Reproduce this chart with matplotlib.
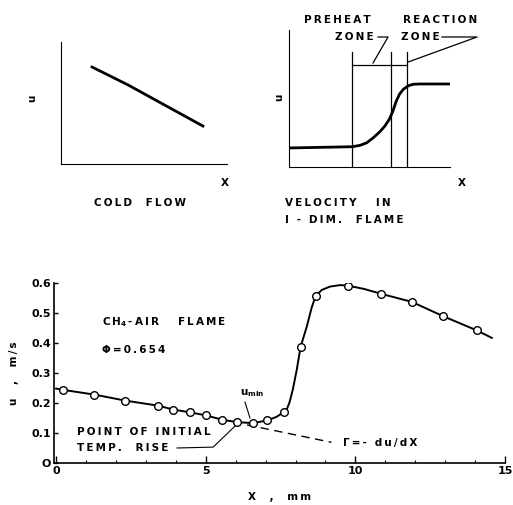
import matplotlib
matplotlib.use('Agg')
import matplotlib.pyplot as plt
from matplotlib.ticker import MultipleLocator

plt.rcParams['font.family'] = ['DejaVu Sans']
plt.rcParams['font.size'] = 7.5
plt.rcParams['font.weight'] = 'bold'
plt.rcParams['axes.labelweight'] = 'bold'
plt.rcParams['mathtext.default'] = 'bf'

# measured points, CH4-air flame, phi = 0.654
x_meas = [0.22, 1.28, 2.31, 3.42, 3.92, 4.47, 5.0, 5.56, 6.06, 6.58, 7.06, 7.61,
          8.17, 8.67, 9.76, 10.86, 11.89, 12.94, 14.06]
u_meas = [0.244, 0.228, 0.208, 0.191, 0.178, 0.169, 0.159, 0.144, 0.136, 0.133, 0.142, 0.170,
          0.387, 0.556, 0.591, 0.564, 0.537, 0.489, 0.442]

# hand-faired curve through the points
x_curve = [0.0, 0.22, 1.28, 2.31, 3.42, 3.92, 4.47, 5.0, 5.56, 6.06, 6.58, 7.06, 7.37, 7.61,
           7.72, 7.80, 7.91, 8.04, 8.17, 8.38, 8.54, 8.67, 8.88, 9.15, 9.49, 9.76, 10.3, 10.86,
           11.89, 12.94, 14.06, 14.56]
u_curve = [0.248, 0.244, 0.228, 0.208, 0.191, 0.178, 0.169, 0.159, 0.144, 0.136, 0.133, 0.142,
           0.154, 0.170, 0.182, 0.202, 0.245, 0.31, 0.387, 0.456, 0.518, 0.556, 0.577, 0.588,
           0.593, 0.591, 0.580, 0.564, 0.537, 0.489, 0.442, 0.417]

# extrapolated cold-flow gradient
x_grad = [6.38, 9.2]
u_grad = [0.127, 0.069]

# schematic panels (arbitrary units, 0..10)
cold_x = [1.87, 4.04, 8.55]
cold_u = [7.95, 6.48, 3.11]

flame_x = [0.0, 3.93, 4.41, 4.83, 5.24, 5.65, 5.96, 6.23, 6.44, 6.65, 6.86, 7.10, 7.41,
           7.72, 8.14, 10.0]
flame_u = [1.39, 1.48, 1.58, 1.77, 2.14, 2.58, 3.0, 3.48, 4.04, 4.77, 5.31, 5.67, 5.93,
           6.04, 6.06, 6.06]
zone_edges = [3.91, 6.34, 7.33]

TS = '\u2009'


def spaced(s):
    # lettering on the original is widely tracked
    return TS.join(s)


fig = plt.figure(figsize=(5.13, 5.05), dpi=100)

# ---- cold flow sketch
ax1 = fig.add_axes([61 / 513, 341 / 505, 166 / 513, 122 / 505])
ax1.plot(cold_x, cold_u, color='black', lw=2.0)
ax1.set_xlim(0, 10)
ax1.set_ylim(0, 10)
for s in ['top', 'right']:
    ax1.spines[s].set_visible(False)
ax1.set_xticks([])
ax1.set_yticks([])
ax1.text(-1.75, 5.41, 'u', rotation=90, ha='center', va='center')
ax1.text(9.88, -1.56, 'X', ha='center', va='center')
ax1.text(4.76, -3.2, spaced('COLD  FLOW'), ha='center', va='center')

# ---- 1-D flame sketch
ax2 = fig.add_axes([289 / 513, 338 / 505, 161 / 513, 137 / 505])
ax2.plot(flame_x, flame_u, color='black', lw=2.0)
for xe in zone_edges:
    ax2.plot([xe, xe], [0, 8.39], color='black', lw=0.9)
ax2.plot([zone_edges[0], zone_edges[2]], [7.45, 7.45], color='black', lw=0.9)
ax2.set_xlim(0, 10)
ax2.set_ylim(0, 10)
for s in ['top', 'right']:
    ax2.spines[s].set_visible(False)
ax2.set_xticks([])
ax2.set_yticks([])
ax2.text(-0.62, 5.11, 'u', rotation=90, ha='center', va='center')
ax2.text(10.75, -1.17, 'X', ha='center', va='center')
ax2.text(-0.25, -2.63, spaced('VELOCITY   IN'), ha='left', va='center')
ax2.text(-0.25, -3.87, spaced('I - DIM.  FLAME'), ha='left', va='center')
ax2.text(3.0, 10.73, spaced('PREHEAT'), ha='center', va='center')
ax2.text(4.04, 9.49, spaced('ZONE'), ha='center', va='center')
ax2.text(9.38, 10.73, spaced('REACTION'), ha='center', va='center')
ax2.text(8.14, 9.49, spaced('ZONE'), ha='center', va='center')
ax2.plot([5.53, 6.15, 5.22], [9.49, 9.49, 7.59], color='black', lw=0.9, clip_on=False)
ax2.plot([9.5, 11.68, 7.39], [9.49, 9.49, 7.66], color='black', lw=0.9, clip_on=False)

# ---- measured profile
ax = fig.add_axes([54 / 513, 42 / 505, 451 / 513, 180 / 505])
ax.plot(x_curve, u_curve, color='black', lw=1.4, zorder=2)
ax.plot(x_grad, u_grad, color='black', lw=1.0, dashes=(6, 4), zorder=1)
ax.plot(x_meas, u_meas, 'o', ms=5.5, mfc='white', mec='black', mew=1.0, zorder=3)
ax.set_xlim(-0.07, 15)
ax.set_ylim(0, 0.6)
for s in ['top', 'right']:
    ax.spines[s].set_visible(False)
ax.spines['left'].set_linewidth(1.2)
ax.spines['bottom'].set_linewidth(1.2)
ax.set_xticks([0, 5, 10, 15])
ax.set_xticklabels(['0', '5', '10', '15'])
ax.xaxis.set_minor_locator(MultipleLocator(1))
ax.set_yticks([0, 0.1, 0.2, 0.3, 0.4, 0.5, 0.6])
ax.set_yticklabels(['O', '0.1', '0.2', '0.3', '0.4', '0.5', '0.6'])
ax.tick_params(which='major', direction='in', length=5, width=1, labelsize=8, pad=2)
ax.tick_params(which='minor', direction='in', length=2.5, width=0.8)
ax.tick_params(axis='y', which='major', length=3)
ax.set_xlabel(spaced('X  ,  mm'), labelpad=12)
ax.set_ylabel(spaced('u  ,  m/s'), labelpad=9)

ax.text(1.54, 0.47, TS.join('CH') + '$_4$' + TS + spaced('-AIR   FLAME'), ha='left', va='center')
ax.text(1.54, 0.377, spaced('\u03a6=0.654'), ha='left', va='center')
ax.text(6.15, 0.233, 'u$_{\\rm min}$', ha='left', va='center')
ax.plot([6.31, 6.48], [0.203, 0.15], color='black', lw=0.8)
ax.text(0.70, 0.103, spaced('POINT OF INITIAL'), ha='left', va='center')
ax.text(0.70, 0.05, spaced('TEMP.  RISE'), ha='left', va='center')
ax.plot([4.04, 5.25, 6.08], [0.05, 0.053, 0.133], color='black', lw=0.8)
ax.text(9.59, 0.067, spaced('\u0393=- du/dX'), ha='left', va='center')

fig.savefig('out.png', dpi=100)
